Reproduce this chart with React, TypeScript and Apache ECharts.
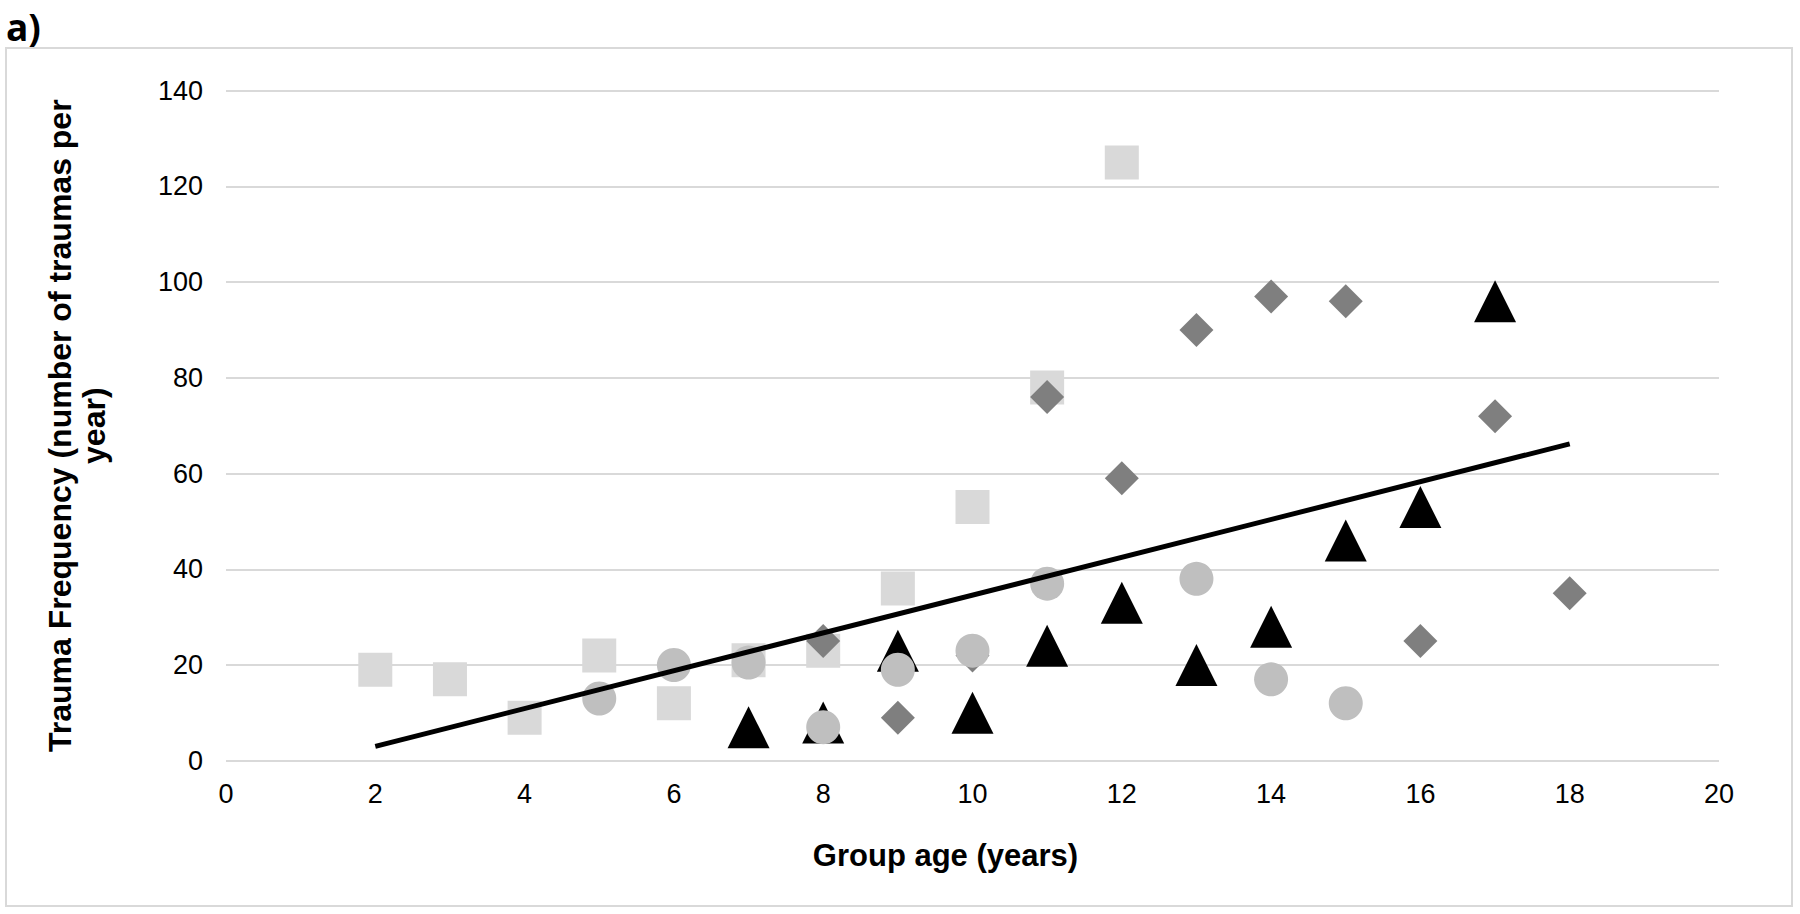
import React, { useEffect, useRef } from "react";
import * as echarts from "echarts";

const xTicks = [0, 2, 4, 6, 8, 10, 12, 14, 16, 18, 20];
const yTicks = [0, 20, 40, 60, 80, 100, 120, 140];

const squaresX = [2, 3, 4, 5, 6, 7, 8, 9, 10, 11, 12];
const squaresY = [19, 17, 9, 22, 12, 21, 23, 36, 53, 78, 125];

const diamondsX = [8, 9, 10, 11, 12, 13, 14, 15, 16, 17, 18];
const diamondsY = [25, 9, 22, 76, 59, 90, 97, 96, 25, 72, 35];

const trianglesX = [7, 8, 9, 10, 11, 12, 13, 14, 15, 16, 17];
const trianglesY = [7, 8, 23, 10, 24, 33, 20, 28, 46, 53, 96];

const circlesX = [5, 6, 7, 8, 9, 10, 11, 13, 14, 15];
const circlesY = [13, 20, 20.5, 7, 19, 23, 37, 38, 17, 12];

const trendX = [2, 18];
const trendY = [3.0, 66.2];

const zip = (xs: number[], ys: number[]) => xs.map((x, i) => [x, ys[i]]);

const FONT = '"Liberation Sans", Arial, sans-serif';

export default function App() {
  const ref = useRef<HTMLDivElement>(null);

  useEffect(() => {
    if (!ref.current) return;
    const chart = echarts.init(ref.current, null, { renderer: "svg" });
    chart.setOption({
      animation: false,
      backgroundColor: "#ffffff",
      grid: { left: 226, right: 81, top: 90.7, bottom: 153.3, containLabel: false },
      graphic: [
        {
          type: "rect",
          shape: { x: 6, y: 48, width: 1786, height: 858 },
          style: { fill: "none", stroke: "#d9d9d9", lineWidth: 2 },
          z: -1,
        },
        {
          type: "text",
          x: 6,
          y: 26,
          style: {
            text: "a)",
            font: 'bold 37px "Open Sans", sans-serif',
            fill: "#000",
            textAlign: "left",
            textVerticalAlign: "middle",
          },
        },
      ],
      xAxis: {
        type: "value",
        min: xTicks[0],
        max: xTicks[xTicks.length - 1],
        interval: 2,
        axisLine: { show: false },
        axisTick: { show: false },
        splitLine: { show: false },
        axisLabel: { fontSize: 27, color: "#000", margin: 20, fontFamily: FONT },
        name: "Group age (years)",
        nameLocation: "middle",
        nameGap: 79,
        nameTextStyle: {
          fontSize: 31,
          fontWeight: "bold",
          color: "#000",
          fontFamily: FONT,
          padding: [0, 54, 0, 0],
        },
      },
      yAxis: {
        type: "value",
        min: yTicks[0],
        max: yTicks[yTicks.length - 1],
        interval: 20,
        axisLine: { show: false },
        axisTick: { show: false },
        splitLine: { show: true, lineStyle: { color: "#d9d9d9", width: 2 } },
        axisLabel: { fontSize: 27, color: "#000", margin: 23, fontFamily: FONT },
        name: "Trauma Frequency (number of traumas per\nyear)",
        nameLocation: "middle",
        nameGap: 115,
        nameTextStyle: {
          fontSize: 32,
          fontWeight: "bold",
          color: "#000",
          fontFamily: FONT,
          lineHeight: 34,
          align: "center",
        },
      },
      series: [
        {
          type: "scatter",
          symbol: "rect",
          symbolSize: 34,
          itemStyle: { color: "#d9d9d9", opacity: 1 },
          data: zip(squaresX, squaresY),
        },
        {
          type: "scatter",
          symbol: "diamond",
          symbolSize: 34,
          itemStyle: { color: "#7f7f7f", opacity: 1 },
          data: zip(diamondsX, diamondsY),
        },
        {
          type: "scatter",
          symbol: "triangle",
          symbolSize: [42, 42],
          itemStyle: { color: "#000000", opacity: 1 },
          data: zip(trianglesX, trianglesY),
        },
        {
          type: "scatter",
          symbol: "circle",
          symbolSize: 34,
          itemStyle: { color: "#bfbfbf", opacity: 1 },
          data: zip(circlesX, circlesY),
        },
        {
          type: "line",
          symbol: "none",
          lineStyle: { color: "#000", width: 5 },
          data: zip(trendX, trendY),
          z: 5,
        },
      ],
    });
    return () => chart.dispose();
  }, []);

  return (
    <div
      ref={ref}
      style={{ position: "fixed", left: 0, top: 0, width: 1800, height: 914 }}
    />
  );
}
